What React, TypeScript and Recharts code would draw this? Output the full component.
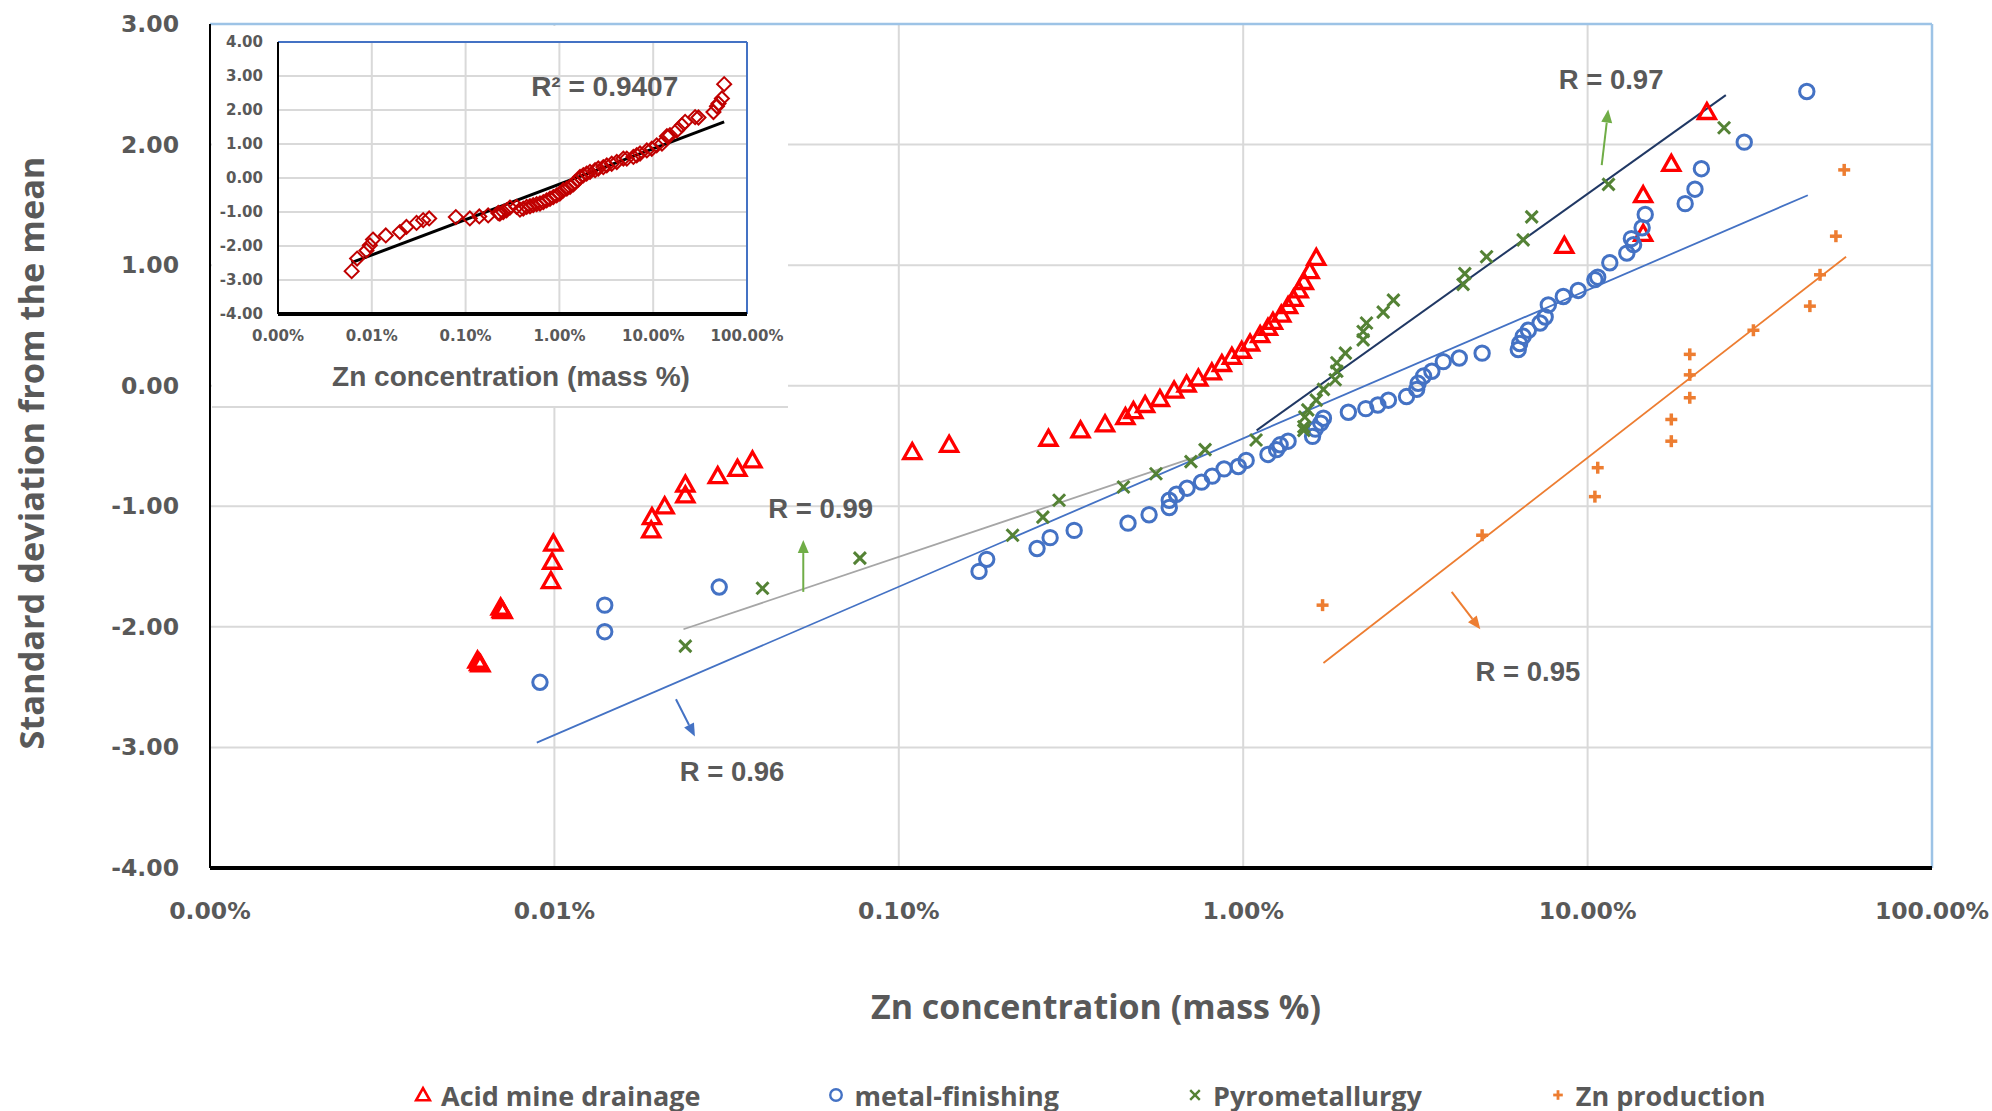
import React from "react";
import {
  ScatterChart,
  Scatter,
  XAxis,
  YAxis,
  CartesianGrid,
  ReferenceLine,
  ReferenceDot,
} from "recharts";

// values: [Zn mass %, standard deviations from the mean]
const acidMineDrainage: [number, number][] = [
  [0.00605, -2.3], [0.00598, -2.28], [0.0061, -2.31],
  [0.00703, -1.86], [0.00698, -1.84], [0.00708, -1.87],
  [0.00977, -1.62], [0.00985, -1.46], [0.00993, -1.31],
  [0.0191, -1.2], [0.0192, -1.09], [0.0209, -1.0], [0.024, -0.91], [0.024, -0.82],
  [0.0298, -0.75], [0.034, -0.69], [0.0376, -0.62],
  [0.1094, -0.55], [0.14, -0.49],
  [0.272, -0.44], [0.337, -0.37], [0.397, -0.32], [0.455, -0.26], [0.48, -0.21],
  [0.519, -0.16], [0.573, -0.11], [0.63, -0.04], [0.685, 0.01], [0.741, 0.06],
  [0.811, 0.11], [0.867, 0.18], [0.927, 0.24], [0.99, 0.29], [1.047, 0.35],
  [1.12, 0.42], [1.18, 0.48], [1.22, 0.53], [1.29, 0.59], [1.35, 0.66],
  [1.4, 0.72], [1.45, 0.79], [1.5, 0.86], [1.56, 0.95], [1.63, 1.06],
  [8.56, 1.16], [14.5, 1.26], [14.5, 1.58], [17.5, 1.84], [22.2, 2.27],
];

const metalFinishing: [number, number][] = [
  [0.00908, -2.46], [0.014, -2.04], [0.014, -1.82], [0.0301, -1.67],
  [0.171, -1.54], [0.18, -1.44], [0.252, -1.35], [0.275, -1.26], [0.323, -1.2],
  [0.463, -1.14], [0.533, -1.07], [0.61, -1.01], [0.61, -0.95], [0.64, -0.9],
  [0.687, -0.85], [0.757, -0.8], [0.813, -0.75], [0.88, -0.69], [0.968, -0.67],
  [1.02, -0.62], [1.18, -0.57], [1.25, -0.53], [1.28, -0.49], [1.35, -0.46],
  [1.59, -0.42], [1.62, -0.36], [1.68, -0.31], [1.71, -0.27], [2.02, -0.22],
  [2.27, -0.19], [2.46, -0.16], [2.64, -0.12], [2.98, -0.09], [3.19, -0.03],
  [3.22, 0.02], [3.34, 0.08], [3.53, 0.12], [3.81, 0.2], [4.24, 0.23],
  [4.94, 0.27], [6.29, 0.3], [6.35, 0.35], [6.5, 0.41], [6.73, 0.46],
  [7.28, 0.52], [7.53, 0.57], [7.69, 0.67], [8.5, 0.74], [9.39, 0.79],
  [10.5, 0.88], [10.7, 0.9], [11.6, 1.02], [13.0, 1.1], [13.6, 1.17],
  [13.4, 1.22], [14.4, 1.31], [14.7, 1.42], [19.2, 1.51], [20.5, 1.63],
  [21.4, 1.8], [28.5, 2.02], [43.3, 2.44],
];

const pyrometallurgy: [number, number][] = [
  [0.024, -2.16], [0.0402, -1.68], [0.0771, -1.43], [0.214, -1.24], [0.262, -1.09],
  [0.292, -0.95], [0.449, -0.84], [0.558, -0.73], [0.705, -0.63], [0.775, -0.53],
  [1.09, -0.45], [1.5, -0.37], [1.5, -0.34], [1.51, -0.26], [1.54, -0.2],
  [1.63, -0.12], [1.71, -0.03], [1.85, 0.05], [1.87, 0.12], [1.87, 0.19],
  [1.98, 0.27], [2.23, 0.38], [2.23, 0.45], [2.28, 0.52], [2.55, 0.61],
  [2.73, 0.71], [4.35, 0.84], [4.4, 0.93], [5.09, 1.07], [6.5, 1.21],
  [6.88, 1.4], [11.5, 1.67], [24.9, 2.14],
];

const znProduction: [number, number][] = [
  [1.7, -1.82], [4.94, -1.24], [10.5, -0.92], [10.7, -0.68], [17.5, -0.46],
  [17.5, -0.28], [19.8, -0.1], [19.8, 0.09], [19.8, 0.26], [30.3, 0.46],
  [44.2, 0.66], [47.3, 0.92], [52.6, 1.24], [55.6, 1.79],
];

// trend line end points
const pyroLowTrend: [number, number][] = [[0.0237, -2.02], [0.766, -0.57]];
const metalTrend: [number, number][] = [[0.00889, -2.96], [43.6, 1.58]];
const pyroHighTrend: [number, number][] = [[1.094, -0.37], [25.2, 2.41]];
const znTrend: [number, number][] = [[1.71, -2.3], [56.3, 1.07]];

// R annotations and their arrows
const rLabels: { text: string; x: number; y: number }[] = [
  { text: "R = 0.99", x: 0.0593, y: -1.02 },
  { text: "R = 0.96", x: 0.0328, y: -3.2 },
  { text: "R = 0.97", x: 11.7, y: 2.54 },
  { text: "R = 0.95", x: 6.71, y: -2.37 },
];
const arrows: { from: [number, number]; to: [number, number]; color: string }[] = [
  { from: [0.0528, -1.71], to: [0.0528, -1.28], color: "#70AD47" },
  { from: [0.02254, -2.6], to: [0.02559, -2.91], color: "#4472C4" },
  { from: [10.99, 1.83], to: [11.48, 2.29], color: "#70AD47" },
  { from: [4.03, -1.71], to: [4.88, -2.02], color: "#ED7D31" },
];

// inset: all data pooled
const insetPoints: [number, number][] = [
  [0.0061, -2.74], [0.00697, -2.37], [0.00877, -2.13], [0.00953, -1.98], [0.0103, -1.81],
  [0.0141, -1.69], [0.0199, -1.59], [0.0234, -1.44], [0.03, -1.32], [0.0353, -1.24],
  [0.0409, -1.19], [0.0787, -1.15], [0.111, -1.19], [0.14, -1.13], [0.174, -1.1],
  [0.223, -1.03], [0.252, -1.0], [0.297, -0.87], [0.412, -0.9], [0.486, -0.83],
  [0.572, -0.77], [0.674, -0.71], [0.794, -0.61], [0.936, -0.51], [1.1, -0.36],
  [1.3, -0.26], [1.47, -0.12], [1.66, 0.03], [1.95, 0.13], [2.4, 0.23],
  [2.94, 0.32], [3.61, 0.42], [4.81, 0.57], [6.68, 0.67], [8.55, 0.81],
  [10.9, 0.96], [14.0, 1.23], [17.9, 1.4], [21.9, 1.65], [30.4, 1.78],
  [43.9, 1.94], [47.8, 2.11], [54.0, 2.34], [57.1, 2.76],
  [0.232, -1.05], [0.273, -0.95], [0.35, -0.85], [0.38, -0.93], [0.448, -0.85],
  [0.526, -0.8], [0.621, -0.75], [0.731, -0.66], [0.861, -0.56], [1.01, -0.46],
  [1.2, -0.31], [1.41, -0.19], [1.59, -0.05], [1.8, 0.08], [2.12, 0.18],
  [2.6, 0.28], [3.2, 0.37], [4.09, 0.47], [5.23, 0.57], [6.15, 0.62],
  [7.24, 0.72], [9.66, 0.86], [12.4, 1.01], [15.1, 1.26], [20.2, 1.55],
  [28.0, 1.79], [49.7, 2.19],
];
const insetTrend: [number, number][] = [[0.00607, -2.49], [57.1, 1.65]];

const xTicks = [0.001, 0.01, 0.1, 1, 10, 100];
const yTicks = [-4, -3, -2, -1, 0, 1, 2, 3];
const insetYTicks = [-4, -3, -2, -1, 0, 1, 2, 3, 4];

const GREY = "#595959";
const toPts = (a: [number, number][]) => a.map(([x, y]) => ({ x, y }));
const pct = (v: number) => `${v.toFixed(2)}%`;

const Triangle = ({ cx, cy, s = 1 }: any) => (
  <polygon
    points={`${cx},${cy - 8.5 * s} ${cx + 8.5 * s},${cy + 6.5 * s} ${cx - 8.5 * s},${cy + 6.5 * s}`}
    fill="none"
    stroke="#FF0000"
    strokeWidth={3.3 * s}
  />
);
const Ring = ({ cx, cy, s = 1 }: any) => (
  <circle cx={cx} cy={cy} r={7.2 * s} fill="none" stroke="#4472C4" strokeWidth={3 * s} />
);
const Cross = ({ cx, cy, s = 1 }: any) => (
  <g stroke="#548235" strokeWidth={3 * s}>
    <line x1={cx - 6 * s} y1={cy - 6 * s} x2={cx + 6 * s} y2={cy + 6 * s} />
    <line x1={cx - 6 * s} y1={cy + 6 * s} x2={cx + 6 * s} y2={cy - 6 * s} />
  </g>
);
const Plus = ({ cx, cy, s = 1 }: any) => (
  <g stroke="#ED7D31" strokeWidth={3.5 * s}>
    <line x1={cx - 6 * s} y1={cy} x2={cx + 6 * s} y2={cy} />
    <line x1={cx} y1={cy - 6 * s} x2={cx} y2={cy + 6 * s} />
  </g>
);
const Diamond = ({ cx, cy }: any) => (
  <polygon
    points={`${cx},${cy - 7} ${cx + 7},${cy} ${cx},${cy + 7} ${cx - 7},${cy}`}
    fill="none"
    stroke="#C00000"
    strokeWidth={2}
  />
);

const arrowShape = (color: string) => (p: any) => {
  const { x1, y1, x2, y2 } = p;
  const a = Math.atan2(y2 - y1, x2 - x1);
  const bx = x2 - 13 * Math.cos(a);
  const by = y2 - 13 * Math.sin(a);
  const nx = -Math.sin(a) * 5.5;
  const ny = Math.cos(a) * 5.5;
  return (
    <g>
      <line x1={x1} y1={y1} x2={bx} y2={by} stroke={color} strokeWidth={2} />
      <polygon points={`${x2},${y2} ${bx + nx},${by + ny} ${bx - nx},${by - ny}`} fill={color} />
    </g>
  );
};

const textShape = (text: string, size: number) => (p: any) => (
  <text
    x={p.cx}
    y={p.cy}
    textAnchor="middle"
    dominantBaseline="central"
    fill={GREY}
    fontFamily="'Liberation Sans', Arial, sans-serif"
    fontWeight="bold"
    fontSize={size}
  >
    {text}
  </text>
);

const MainXTick = (p: any) => (
  <text x={p.x} y={p.y + 43} textAnchor="middle" dominantBaseline="central" fill={GREY}
    fontFamily="'DejaVu Sans', sans-serif" fontWeight="bold" fontSize={23.5}>
    {pct(p.payload.value)}
  </text>
);
const MainYTick = (p: any) => (
  <text x={p.x - 31} y={p.y} textAnchor="end" dominantBaseline="central" fill={GREY}
    fontFamily="'DejaVu Sans', sans-serif" fontWeight="bold" fontSize={23.5}>
    {p.payload.value.toFixed(2)}
  </text>
);
const InsetXTick = (p: any) => (
  <text x={p.x} y={p.y + 21.5} textAnchor="middle" dominantBaseline="central" fill={GREY}
    fontFamily="'DejaVu Sans', sans-serif" fontWeight="bold" fontSize={15}>
    {pct(p.payload.value)}
  </text>
);
const InsetYTick = (p: any) => (
  <text x={p.x - 15} y={p.y} textAnchor="end" dominantBaseline="central" fill={GREY}
    fontFamily="'DejaVu Sans', sans-serif" fontWeight="bold" fontSize={15}>
    {p.payload.value.toFixed(2)}
  </text>
);

const legendItems = [
  { name: "Acid mine drainage", Icon: Triangle },
  { name: "metal-finishing", Icon: Ring },
  { name: "Pyrometallurgy", Icon: Cross },
  { name: "Zn production", Icon: Plus },
];

function Inset() {
  return (
    <div
      style={{
        position: "absolute",
        left: 212,
        top: 26,
        width: 576,
        height: 380,
        background: "#fff",
        borderBottom: "2px solid #D9D9D9",
      }}
    >
      <ScatterChart width={576} height={380} margin={{ top: 16, right: 41, bottom: 0, left: 0 }}>
        <CartesianGrid stroke="#D9D9D9" strokeWidth={2} />
        <XAxis
          type="number"
          dataKey="x"
          scale="log"
          domain={[0.001, 100]}
          ticks={xTicks}
          allowDataOverflow
          height={92}
          tickSize={0}
          tickMargin={0}
          tick={<InsetXTick />}
          axisLine={{ stroke: "#000", strokeWidth: 4 }}
          label={{
            content: () => (
              <text x={299} y={350} textAnchor="middle" dominantBaseline="central" fill={GREY}
                fontFamily="'Liberation Sans', Arial, sans-serif" fontWeight="bold" fontSize={28}>
                Zn concentration (mass %)
              </text>
            ),
          }}
        />
        <YAxis
          type="number"
          dataKey="y"
          domain={[-4, 4]}
          ticks={insetYTicks}
          width={66}
          tickSize={0}
          tickMargin={0}
          tick={<InsetYTick />}
          axisLine={{ stroke: "#000", strokeWidth: 2 }}
        />
        <ReferenceLine y={4} stroke="#4472C4" strokeWidth={2} />
        <ReferenceLine x={100} stroke="#4472C4" strokeWidth={2} />
        <Scatter data={toPts(insetPoints)} shape={<Diamond />} isAnimationActive={false} />
        <ReferenceLine segment={toPts(insetTrend)} stroke="#000" strokeWidth={3} />
        <ReferenceDot x={3.04} y={2.68} r={0} shape={textShape("R² = 0.9407", 28)} />
      </ScatterChart>
    </div>
  );
}

export default function App() {
  return (
    <div style={{ position: "absolute", left: 0, top: 0, width: 1992, height: 1111, background: "#fff" }}>
      <ScatterChart width={1992} height={1111} margin={{ top: 24, right: 60, bottom: 0, left: 0 }}>
        <CartesianGrid stroke="#D9D9D9" strokeWidth={2} />
        <XAxis
          type="number"
          dataKey="x"
          scale="log"
          domain={[0.001, 100]}
          ticks={xTicks}
          allowDataOverflow
          height={243}
          tickSize={0}
          tickMargin={0}
          tick={<MainXTick />}
          axisLine={{ stroke: "#000", strokeWidth: 4 }}
          label={{
            content: () => (
              <text x={1096} y={1006} textAnchor="middle" dominantBaseline="central" fill={GREY}
                fontFamily="'Open Sans', sans-serif" fontWeight="bold" fontSize={34}>
                Zn concentration (mass %)
              </text>
            ),
          }}
        />
        <YAxis
          type="number"
          dataKey="y"
          domain={[-4, 3]}
          ticks={yTicks}
          width={210}
          tickSize={0}
          tickMargin={0}
          tick={<MainYTick />}
          axisLine={{ stroke: "#000", strokeWidth: 2 }}
          label={{
            content: () => (
              <text x={30} y={453} transform="rotate(-90 30 453)" textAnchor="middle"
                dominantBaseline="central" fill={GREY}
                fontFamily="'Open Sans', sans-serif" fontWeight="bold" fontSize={34.3}>
                Standard deviation from the mean
              </text>
            ),
          }}
        />
        <ReferenceLine y={3} stroke="#9DC3E6" strokeWidth={2.5} />
        <ReferenceLine x={100} stroke="#9DC3E6" strokeWidth={2.5} />

        <Scatter name="Acid mine drainage" data={toPts(acidMineDrainage)} shape={<Triangle />} isAnimationActive={false} />
        <Scatter name="metal-finishing" data={toPts(metalFinishing)} shape={<Ring />} isAnimationActive={false} />
        <Scatter name="Pyrometallurgy" data={toPts(pyrometallurgy)} shape={<Cross />} isAnimationActive={false} />
        <Scatter name="Zn production" data={toPts(znProduction)} shape={<Plus />} isAnimationActive={false} />

        <ReferenceLine segment={toPts(pyroLowTrend)} stroke="#A6A6A6" strokeWidth={1.8} />
        <ReferenceLine segment={toPts(metalTrend)} stroke="#4472C4" strokeWidth={1.8} />
        <ReferenceLine segment={toPts(pyroHighTrend)} stroke="#203864" strokeWidth={2} />
        <ReferenceLine segment={toPts(znTrend)} stroke="#ED7D31" strokeWidth={1.8} />

        {arrows.map((a, i) => (
          <ReferenceLine
            key={`arrow-${i}`}
            segment={[{ x: a.from[0], y: a.from[1] }, { x: a.to[0], y: a.to[1] }]}
            stroke={a.color}
            shape={arrowShape(a.color)}
          />
        ))}
        {rLabels.map((l) => (
          <ReferenceDot key={l.text} x={l.x} y={l.y} r={0} shape={textShape(l.text, 27.5)} />
        ))}
      </ScatterChart>

      <Inset />

      <div
        style={{
          position: "absolute",
          left: 413,
          top: 1077,
          height: 36,
          display: "flex",
          alignItems: "center",
          gap: 126,
          fontFamily: "'Open Sans', sans-serif",
          fontWeight: 700,
          fontSize: 27,
          color: GREY,
          whiteSpace: "nowrap",
        }}
      >
        {legendItems.map(({ name, Icon }) => (
          <div key={name} style={{ display: "flex", alignItems: "center" }}>
            <svg width={20} height={20} style={{ marginRight: 8 }}>
              <Icon cx={10} cy={10} s={0.8} />
            </svg>
            <span>{name}</span>
          </div>
        ))}
      </div>
    </div>
  );
}
